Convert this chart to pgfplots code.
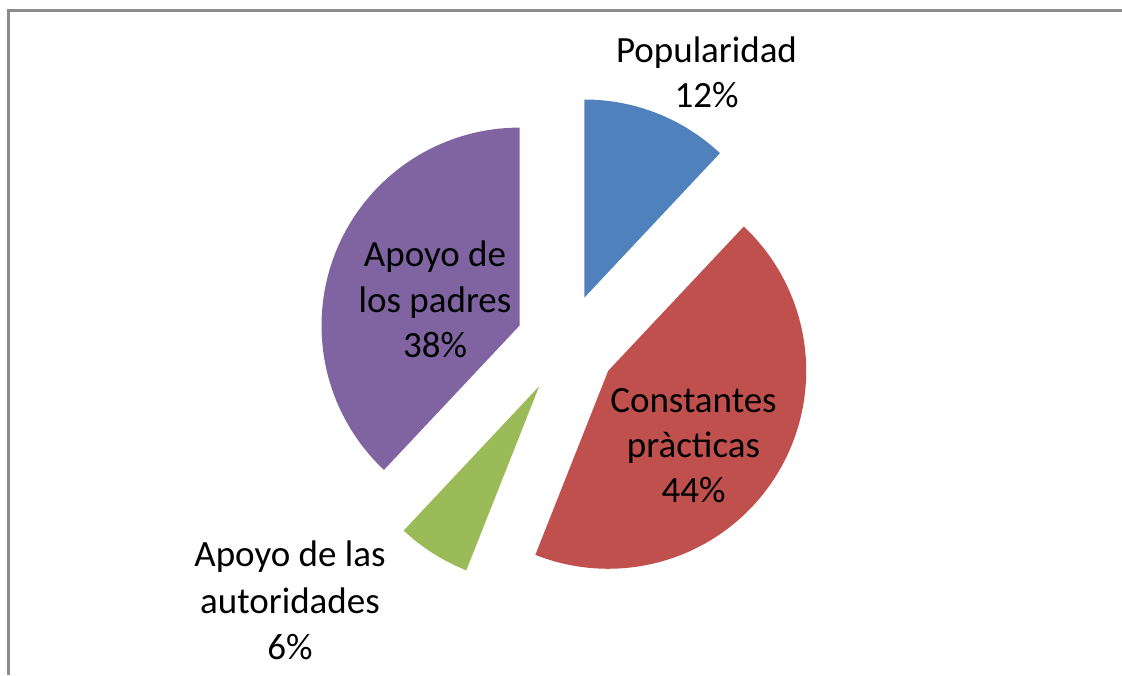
\documentclass[border=0pt]{standalone}
\usepackage{pgfplots}
\pgfplotsset{compat=1.18}
\usepackage{fontspec}
\setmainfont{Carlito}
\definecolor{cBlue}{HTML}{4F81BD}
\definecolor{cRed}{HTML}{C0504D}
\definecolor{cGreen}{HTML}{9BBB59}
\definecolor{cPurple}{HTML}{8064A2}
\definecolor{frameGray}{HTML}{8C8C8C}
\begin{document}
\begin{tikzpicture}
\begin{axis}[
  name=ax,
  scale only axis, width=1122pt, height=675pt,
  xmin=0, xmax=1122, ymin=0, ymax=675,
  hide axis, clip=false,
]
% chart frame
\addplot[draw=frameGray, line width=3pt, no marks] coordinates {(8.5,0) (8.5,664.5) (1122,664.5)};
% pie slices: value (%) / colour ; centre (566,331), radius 198, explode 50
\xdef\sliceStart{90}
\foreach \v/\c in {12/cBlue,44/cRed,6/cGreen,38/cPurple}{
  \pgfmathsetmacro\sliceEnd{\sliceStart-3.6*\v}
  \pgfmathsetmacro\sliceMid{(\sliceStart+\sliceEnd)/2}
  \pgfmathsetmacro\ax{566+50*cos(\sliceMid)}
  \pgfmathsetmacro\ay{331+50*sin(\sliceMid)}
  \edef\temp{\noexpand\addplot[fill=\c, draw=none, no marks, domain=\sliceEnd:\sliceStart, samples=90, variable=\noexpand\t]
     ({\ax+198*cos(\noexpand\t)},{\ay+198*sin(\noexpand\t)}) -- (axis cs:\ax,\ay) -- cycle;}
  \temp
  \xdef\sliceStart{\sliceEnd}
}
\tikzset{lab/.style={anchor=base, inner sep=0pt, font=\fontsize{37}{45}\selectfont, text=black}}
\node[lab] at (axis cs:706.5,612.3) {Popularidad};
\node[lab] at (axis cs:706.5,567) {12\%};
\node[lab] at (axis cs:693.5,262) {Constantes};
\node[lab] at (axis cs:693.5,217) {pràcticas};
\node[lab] at (axis cs:693.5,172) {44\%};
\node[lab] at (axis cs:290,108.3) {Apoyo de las};
\node[lab] at (axis cs:290,62) {autoridades};
\node[lab] at (axis cs:290,16) {6\%};
\node[lab] at (axis cs:435,408.3) {Apoyo de};
\node[lab] at (axis cs:435,362.3) {los padres};
\node[lab] at (axis cs:435,317) {38\%};
\end{axis}
\pgfresetboundingbox
\path[use as bounding box] (ax.south west) rectangle (ax.north east);
\end{tikzpicture}
\end{document}
